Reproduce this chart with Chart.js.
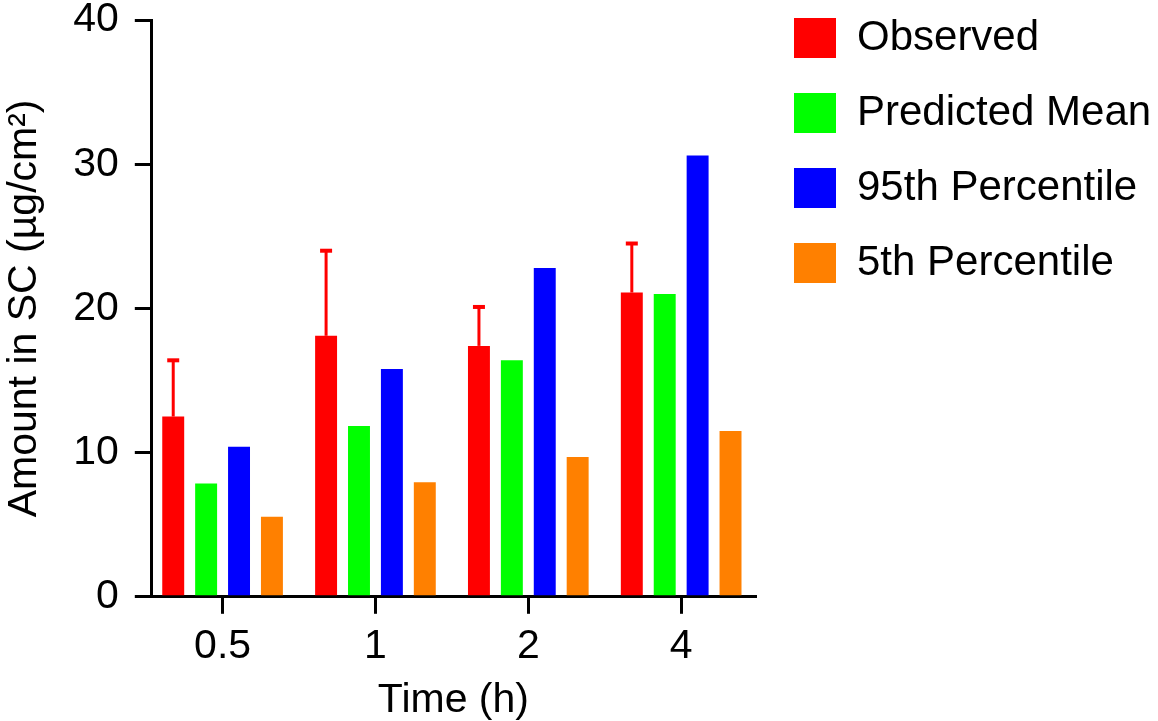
<!DOCTYPE html>
<html>
<head>
<meta charset="utf-8">
<script src="https://cdn.jsdelivr.net/npm/chart.js@4.4.1/dist/chart.umd.min.js"></script>
<style>
  body { margin: 0; background: #fff; }
  #wrap { width: 1158px; height: 721px; }
</style>
</head>
<body>
<div id="wrap"><canvas id="bar-chart"></canvas></div>
<script>
// 데이터
var times = ["0.5", "1", "2", "4"];
var observed = [12.5, 18.1, 17.4, 21.1];
var observedTop = [16.4, 24.0, 20.1, 24.5]; // 에러바 위쪽 끝
var predMean = [7.85, 11.85, 16.4, 21.0];
var p95 = [10.4, 15.8, 22.8, 30.6];
var p5 = [5.55, 7.95, 9.7, 11.5];
var yTicks = [0, 10, 20, 30, 40];

var font = "'Liberation Sans', Arial, sans-serif";

// 관측값 에러바 (위쪽만)
var errorBars = {
	id: "errorBars",
	afterDatasetsDraw: function(chart){
		var ctx = chart.ctx;
		var meta = chart.getDatasetMeta(0);
		var y = chart.scales.y;
		ctx.save();
		ctx.strokeStyle = "#ff0000";
		meta.data.forEach(function(bar, i){
			var top = y.getPixelForValue(observedTop[i]);
			ctx.lineWidth = 3;
			ctx.beginPath();
			ctx.moveTo(bar.x, bar.y);
			ctx.lineTo(bar.x, top);
			ctx.stroke();
			ctx.lineWidth = 4;
			ctx.beginPath();
			ctx.moveTo(bar.x - 6, top);
			ctx.lineTo(bar.x + 6, top);
			ctx.stroke();
		});
		ctx.restore();
	}
};

// 범례 위치 / x축 양끝 여백 조정
var layoutFix = {
	id: "layoutFix",
	afterLayout: function(chart){
		chart.legend.top = -16;
		chart.legend.left += 6;
		var x = chart.scales.x;
		x._startValue = -0.463;
		x._valueRange = 3.946;
	}
};

new Chart(document.getElementById("bar-chart"), {
	type: "bar",
	data: {
		labels: times,
		datasets: [
			{ label: "Observed", data: observed, backgroundColor: "#ff0000", borderWidth: 0 },
			{ label: "Predicted Mean", data: predMean, backgroundColor: "#00ff00", borderWidth: 0 },
			{ label: "95th Percentile", data: p95, backgroundColor: "#0000ff", borderWidth: 0 },
			{ label: "5th Percentile", data: p5, backgroundColor: "#ff8000", borderWidth: 0 }
		]
	},
	options: {
		responsive: true,
		maintainAspectRatio: false,
		animation: false,
		layout: { padding: { top: 0, right: 3, left: 0, bottom: 0 } },
		datasets: { bar: { categoryPercentage: 0.861, barPercentage: 0.667 } },
		plugins: {
			tooltip: { enabled: false },
			legend: {
				position: "right",
				align: "start",
				maxWidth: 400,
				labels: {
					boxWidth: 42,
					boxHeight: 40,
					padding: 33,
					color: "#000",
					font: { family: font, size: 42 }
				}
			}
		},
		scales: {
			x: {
				offset: true,
				border: { color: "#000", width: 3 },
				grid: { offset: false, drawOnChartArea: false, drawTicks: true, tickLength: 17, color: "#000", lineWidth: 3 },
				ticks: { color: "#000", padding: 8, font: { family: font, size: 41 } },
				title: { display: true, text: "Time (h)", color: "#000", padding: { top: 1, bottom: 0 }, font: { family: font, size: 41, lineHeight: 1.0 } }
			},
			y: {
				min: 0,
				max: 40,
				afterBuildTicks: function(axis){
					axis.ticks = yTicks.map(function(v){ return { value: v }; });
				},
				afterFit: function(axis){
					axis.paddingTop = 20;
				},
				border: { color: "#000", width: 3 },
				grid: { drawOnChartArea: false, drawTicks: true, tickLength: 17, color: "#000", lineWidth: 3 },
				ticks: { color: "#000", padding: 16, font: { family: font, size: 41 } },
				title: { display: true, text: "Amount in SC (µg/cm²)", color: "#000", padding: { top: 0, bottom: 8 }, font: { family: font, size: 41 } }
			}
		}
	},
	plugins: [errorBars, layoutFix]
});
</script>
</body>
</html>
